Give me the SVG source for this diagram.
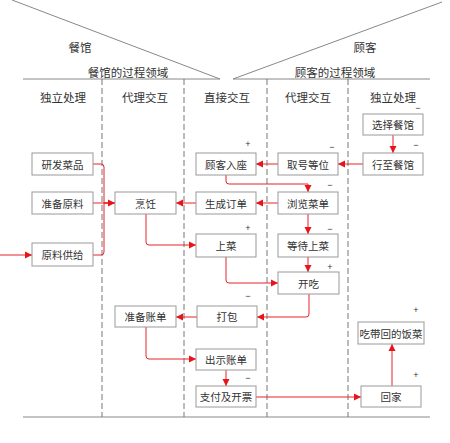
<svg xmlns="http://www.w3.org/2000/svg" width="450" height="443" viewBox="0 0 450 443">
<style>
.bg{fill:#fff}
.frame{stroke:#888;stroke-width:1;fill:none}
.dash{stroke:#777;stroke-width:1;stroke-dasharray:6,3;fill:none}
.box{fill:#fff;stroke:#999;stroke-width:1}
.t{font-family:"Noto Sans CJK SC","Liberation Sans",sans-serif;font-size:10.5px;fill:#333;text-anchor:middle;dominant-baseline:central}
.h{font-family:"Noto Sans CJK SC","Liberation Sans",sans-serif;font-size:11.5px;fill:#333;text-anchor:middle;dominant-baseline:central}
.s{font-family:"Liberation Sans",sans-serif;font-size:9px;fill:#333;text-anchor:middle;dominant-baseline:central}
.c{stroke:#e8232a;stroke-width:1;fill:none}
</style>
<defs>
<marker id="arr" markerUnits="userSpaceOnUse" markerWidth="8" markerHeight="8" refX="7" refY="4" orient="auto">
<path d="M0,0.5 L7,4 L0,7.5 z" fill="#e8141a"/>
</marker>
</defs>
<rect class="bg" x="0" y="0" width="450" height="443"/>
<g id="frame">
<line class="frame" x1="12" y1="0" x2="220" y2="79"/>
<line class="frame" x1="442" y1="2" x2="233" y2="79"/>
<line class="frame" x1="23" y1="79" x2="220" y2="79"/>
<line class="frame" x1="233" y1="79" x2="430" y2="79"/>
<line class="frame" x1="23" y1="417" x2="430" y2="417"/>
<line class="dash" x1="102" y1="79" x2="102" y2="417"/>
<line class="dash" x1="184" y1="79" x2="184" y2="417"/>
<line class="dash" x1="267" y1="79" x2="267" y2="417"/>
<line class="dash" x1="348" y1="79" x2="348" y2="417"/>
<text class="h" x="80" y="47">餐馆</text>
<text class="h" x="365" y="47">顾客</text>
<text class="h" x="128" y="72">餐馆的过程领域</text>
<text class="h" x="335" y="72">顾客的过程领域</text>
<text class="h" x="63" y="97">独立处理</text>
<text class="h" x="145" y="97">代理交互</text>
<text class="h" x="227" y="97">直接交互</text>
<text class="h" x="308" y="97">代理交互</text>
<text class="h" x="393" y="97">独立处理</text>
</g>
<g id="connectors">
<path class="c" d="M0,255 H32" marker-end="url(#arr)"/>
<path class="c" d="M93,164 H101 Q104,164 104,167 V203 H115"/>
<path class="c" d="M93,255 H101 Q104,255 104,252 V203 H115"/>
<path class="c" d="M93,203 H115" marker-end="url(#arr)"/>
<path class="c" d="M196,203 H176" marker-end="url(#arr)"/>
<path class="c" d="M146,214 V242 Q146,245 149,245 H196" marker-end="url(#arr)"/>
<path class="c" d="M393,135 V153" marker-end="url(#arr)"/>
<path class="c" d="M363,164 H338" marker-end="url(#arr)"/>
<path class="c" d="M278,164 H256" marker-end="url(#arr)"/>
<path class="c" d="M226,175 V181 Q226,184 229,184 H308 V192" marker-end="url(#arr)"/>
<path class="c" d="M278,203 H256" marker-end="url(#arr)"/>
<path class="c" d="M308,214 V234" marker-end="url(#arr)"/>
<path class="c" d="M308,257 V272" marker-end="url(#arr)"/>
<path class="c" d="M226,257 V280 Q226,283 229,283 H278" marker-end="url(#arr)"/>
<path class="c" d="M309,294 V314 Q309,317 306,317 H257" marker-end="url(#arr)"/>
<path class="c" d="M197,317 H176" marker-end="url(#arr)"/>
<path class="c" d="M146,327 V356 Q146,359 149,359 H196" marker-end="url(#arr)"/>
<path class="c" d="M226,370 V386" marker-end="url(#arr)"/>
<path class="c" d="M256,397 H361" marker-end="url(#arr)"/>
<path class="c" d="M392,386 V344" marker-end="url(#arr)"/>
</g>
<g id="n-yanfa"><rect class="box" x="32" y="153" width="61" height="22"/><text class="t" x="62.5" y="164">研发菜品</text></g>
<g id="n-zhunbeiyuanliao"><rect class="box" x="32" y="192" width="61" height="22"/><text class="t" x="62.5" y="203">准备原料</text></g>
<g id="n-yuanliaogongji"><rect class="box" x="32" y="243" width="61" height="23"/><text class="t" x="62.5" y="254.5">原料供给</text></g>
<g id="n-pengren"><rect class="box" x="115" y="192" width="61" height="22"/><text class="t" x="145.5" y="203">烹饪</text></g>
<g id="n-zhunbeizhangdan"><rect class="box" x="115" y="306" width="61" height="21"/><text class="t" x="145.5" y="316.5">准备账单</text></g>
<g id="n-gukeruzuo"><rect class="box" x="196" y="153" width="60" height="22"/><text class="t" x="226" y="164">顾客入座</text><text class="s" x="248" y="144">+</text></g>
<g id="n-shengchengdingdan"><rect class="box" x="196" y="192" width="60" height="22"/><text class="t" x="226" y="203">生成订单</text></g>
<g id="n-shangcai"><rect class="box" x="196" y="234" width="60" height="23"/><text class="t" x="226" y="245.5">上菜</text><text class="s" x="248" y="228">+</text></g>
<g id="n-dabao"><rect class="box" x="197" y="306" width="60" height="21"/><text class="t" x="227" y="316.5">打包</text><text class="s" x="248" y="296">−</text></g>
<g id="n-chushizhangdan"><rect class="box" x="196" y="349" width="60" height="21"/><text class="t" x="226" y="359.5">出示账单</text></g>
<g id="n-zhifu"><rect class="box" x="196" y="386" width="60" height="21"/><text class="t" x="226" y="396.5">支付及开票</text><text class="s" x="248" y="378">−</text></g>
<g id="n-quhao"><rect class="box" x="278" y="153" width="60" height="22"/><text class="t" x="308" y="164">取号等位</text><text class="s" x="332" y="147">−</text></g>
<g id="n-liulan"><rect class="box" x="278" y="192" width="60" height="22"/><text class="t" x="308" y="203">浏览菜单</text><text class="s" x="330" y="185">−</text></g>
<g id="n-dengdai"><rect class="box" x="278" y="234" width="60" height="23"/><text class="t" x="308" y="245.5">等待上菜</text><text class="s" x="330" y="229">−</text></g>
<g id="n-kaichi"><rect class="box" x="278" y="272" width="61" height="22"/><text class="t" x="308.5" y="283">开吃</text><text class="s" x="330" y="267">+</text></g>
<g id="n-xuanze"><rect class="box" x="363" y="114" width="60" height="21"/><text class="t" x="393" y="124.5">选择餐馆</text><text class="s" x="418" y="108">−</text></g>
<g id="n-xingzhi"><rect class="box" x="363" y="153" width="60" height="22"/><text class="t" x="393" y="164">行至餐馆</text><text class="s" x="416" y="145">−</text></g>
<g id="n-chidaihui"><rect class="box" x="358" y="322" width="66" height="22"/><text class="t" x="391" y="333">吃带回的饭菜</text><text class="s" x="416" y="310">+</text></g>
<g id="n-huijia"><rect class="box" x="361" y="386" width="60" height="21"/><text class="t" x="391" y="396.5">回家</text><text class="s" x="416" y="375">+</text></g>
</svg>
